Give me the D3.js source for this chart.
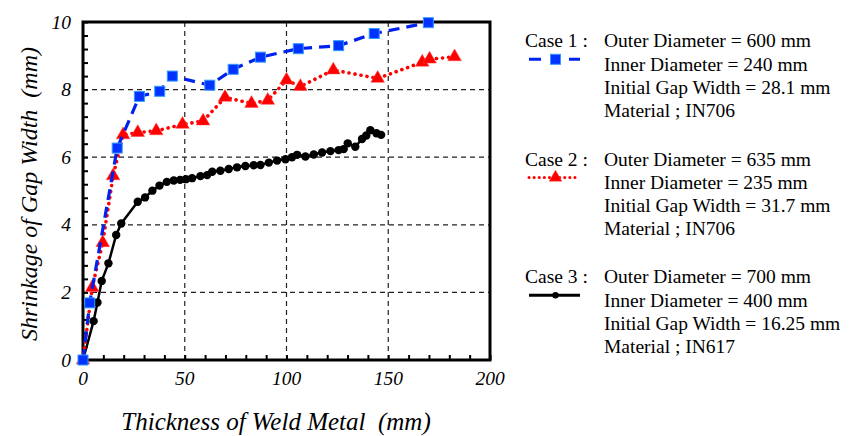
<!DOCTYPE html>
<html>
<head>
<meta charset="utf-8">
<script src="https://cdn.jsdelivr.net/npm/d3@7"></script>
<style>
  html, body { margin: 0; padding: 0; background: #fff; }
</style>
</head>
<body>
<svg id="chart" width="856" height="436"></svg>
<script>
// Shrinkage of gap width vs. weld metal thickness, three welding cases
const case1X = [0, 3.3, 16.8, 27.7, 37.7, 43.9, 62.3, 73.8, 87.2, 105.8, 125.6, 143.1, 169.7];
const case1Y = [0, 1.69, 6.27, 7.8, 7.95, 8.4, 8.13, 8.6, 8.96, 9.21, 9.3, 9.66, 9.98];

const case2X = [0, 4.5, 9.7, 14.8, 19.7, 26.9, 36, 48.9, 59, 69.8, 82.8, 90.8, 100, 106.8, 123, 144.8, 166.7, 170.3, 182.6];
const case2Y = [0, 2.14, 3.47, 5.45, 6.66, 6.73, 6.78, 6.97, 7.07, 7.77, 7.59, 7.68, 8.28, 8.09, 8.58, 8.33, 8.81, 8.9, 8.97];

const case3X = [0, 5.2, 7.1, 9.2, 12.5, 16.3, 18.8, 26.9, 30.5, 34.1, 37.6, 41.2, 44.6, 47.7, 50.5, 53.6, 57.7, 61, 63.5, 67.5, 71.6, 75.7, 79.8, 83.9, 87.2, 91.3, 95.4, 99.5, 102.7, 105.2, 109.3, 113.4, 117.5, 121.6, 125.6, 128.1, 130.1, 133.8, 137.1, 139.2, 141.2, 144.2, 146.5];
const case3Y = [0, 1.15, 1.7, 2.34, 2.86, 3.7, 4.04, 4.68, 4.81, 5.01, 5.16, 5.27, 5.31, 5.33, 5.35, 5.38, 5.44, 5.47, 5.57, 5.6, 5.65, 5.7, 5.74, 5.76, 5.77, 5.84, 5.9, 5.94, 6.0, 6.07, 6.02, 6.08, 6.14, 6.18, 6.21, 6.24, 6.41, 6.31, 6.54, 6.64, 6.8, 6.71, 6.66];

const xTicks = [0, 50, 100, 150, 200];
const yTicks = [0, 2, 4, 6, 8, 10];

const legendCases = ["Case 1 :", "Case 2 :", "Case 3 :"];
const legendLines = [
  ["Outer Diameter = 600 mm", "Inner Diameter = 240 mm", "Initial Gap Width = 28.1 mm", "Material ; IN706"],
  ["Outer Diameter = 635 mm", "Inner Diameter = 235 mm", "Initial Gap Width = 31.7 mm", "Material ; IN706"],
  ["Outer Diameter = 700 mm", "Inner Diameter = 400 mm", "Initial Gap Width = 16.25 mm", "Material ; IN617"]
];

const FONT = "'Liberation Serif', Tinos, 'Times New Roman', Times, 'DejaVu Serif', serif";

const svg = d3.select("#chart");
const plot = { left: 83, right: 490, top: 22, bottom: 360 };

const x = d3.scaleLinear().domain([0, 200]).range([plot.left, plot.right]);
const y = d3.scaleLinear().domain([0, 10]).range([plot.bottom, plot.top]);

// dashed grid
const grid = svg.append("g");
grid.selectAll("line.gx").data(xTicks.slice(1, -1)).join("line")
  .attr("x1", d => x(d)).attr("x2", d => x(d))
  .attr("y1", plot.top).attr("y2", plot.bottom)
  .attr("stroke", "#222").attr("stroke-width", 1.2).attr("stroke-dasharray", "5,4");
grid.selectAll("line.gy").data(yTicks.slice(1, -1)).join("line")
  .attr("x1", plot.left).attr("x2", plot.right)
  .attr("y1", d => y(d)).attr("y2", d => y(d))
  .attr("stroke", "#222").attr("stroke-width", 1.2).attr("stroke-dasharray", "5,4");

// axes with inward minor ticks
const xMinor = d3.range(0, 201, 10);
const yMinor = d3.range(0, 10.01, 0.4);

const xAxis = svg.append("g").attr("transform", `translate(0,${plot.bottom})`)
  .call(d3.axisTop(x).tickValues(xMinor).tickSize(5).tickFormat(""));
xAxis.select(".domain").remove();
xAxis.selectAll(".tick line").attr("stroke", "#000").attr("stroke-width", 2);

const yAxis = svg.append("g").attr("transform", `translate(${plot.left},0)`)
  .call(d3.axisRight(y).tickValues(yMinor).tickSize(5).tickFormat(""));
yAxis.select(".domain").remove();
yAxis.selectAll(".tick line").attr("stroke", "#000").attr("stroke-width", 2);

// frame
svg.append("rect")
  .attr("x", plot.left).attr("y", plot.top)
  .attr("width", plot.right - plot.left).attr("height", plot.bottom - plot.top)
  .attr("fill", "none").attr("stroke", "#000").attr("stroke-width", 3);

// tick labels
svg.append("g").selectAll("text").data(xTicks).join("text")
  .attr("x", d => x(d)).attr("y", 385)
  .attr("font-family", FONT)
  .attr("text-anchor", "middle").attr("font-style", "italic").attr("font-size", 19.5)
  .text(d => d);
svg.append("g").selectAll("text").data(yTicks).join("text")
  .attr("x", 71).attr("y", d => y(d) + 6.5)
  .attr("font-family", FONT)
  .attr("text-anchor", "end").attr("font-style", "italic").attr("font-size", 19.5)
  .text(d => d);

// axis titles
svg.append("text")
  .attr("x", 276).attr("y", 430)
  .attr("font-family", FONT)
  .attr("text-anchor", "middle").attr("font-style", "italic").attr("font-size", 25)
  .attr("xml:space", "preserve")
  .text("Thickness of Weld Metal  (mm)");
svg.append("text")
  .attr("transform", "translate(37,194) rotate(-90)")
  .attr("font-family", FONT)
  .attr("text-anchor", "middle").attr("font-style", "italic").attr("font-size", 24)
  .attr("xml:space", "preserve")
  .text("Shrinkage of Gap Width  (mm)");

// series
const styles = [
  { xs: case1X, ys: case1Y, color: "#0022ee", dash: "11,7", width: 3.2, cap: "butt", marker: "square" },
  { xs: case2X, ys: case2Y, color: "#ff0000", dash: "0.1,6", width: 3.6, cap: "round", marker: "triangle" },
  { xs: case3X, ys: case3Y, color: "#000000", dash: null, width: 2.5, cap: "butt", marker: "circle" }
];

const line = d3.line().x(d => x(d[0])).y(d => y(d[1]));

function drawMarker(g, kind, cx, cy, small) {
  if (kind === "square") {
    const s = 10;
    g.append("rect").attr("x", cx - s / 2).attr("y", cy - s / 2).attr("width", s).attr("height", s)
      .attr("fill", "#0033ff").attr("stroke", "#3399ff").attr("stroke-width", 1);
  } else if (kind === "triangle") {
    const sym = d3.symbol().type(d3.symbolTriangle).size(small ? 70 : 80);
    g.append("path").attr("transform", `translate(${cx},${cy})`).attr("d", sym())
      .attr("fill", "#ff0000").attr("stroke", "#ff4444").attr("stroke-width", 0.5);
  } else {
    g.append("circle").attr("cx", cx).attr("cy", cy).attr("r", small ? 3.2 : 4.2).attr("fill", "#000");
  }
}

// draw case 3 first, then case 2, then case 1 on top
[2, 1, 0].forEach(i => {
  const s = styles[i];
  const pts = s.xs.map((v, k) => [v, s.ys[k]]);
  const g = svg.append("g");
  g.append("path").datum(pts).attr("d", line)
    .attr("fill", "none").attr("stroke", s.color).attr("stroke-width", s.width)
    .attr("stroke-linecap", s.cap).attr("stroke-linejoin", "round")
    .attr("stroke-dasharray", s.dash);
  pts.forEach(p => drawMarker(g, s.marker, x(p[0]), y(p[1]), false));
});

// legend
const legendBase = [47.3, 165.5, 283.3];
const lineGap = 23.3;
legendCases.forEach((label, i) => {
  const g = svg.append("g");
  const b = legendBase[i];
  g.append("text").attr("x", 525).attr("y", b).attr("font-family", FONT).attr("font-size", 19.5).text(label);
  legendLines[i].forEach((t, k) => {
    g.append("text").attr("x", 604).attr("y", b + k * lineGap)
      .attr("font-family", FONT).attr("font-size", 19.5).text(t);
  });
  const s = styles[i];
  const ly = b + 12;
  g.append("line").attr("x1", 529).attr("x2", 580).attr("y1", ly).attr("y2", ly)
    .attr("stroke", s.color).attr("stroke-width", 3)
    .attr("stroke-linecap", s.cap)
    .attr("stroke-dasharray", i === 0 ? "12,28" : (i === 1 ? "0.1,5" : null));
  drawMarker(g, s.marker, 555.5, ly, true);
});
</script>
</body>
</html>
